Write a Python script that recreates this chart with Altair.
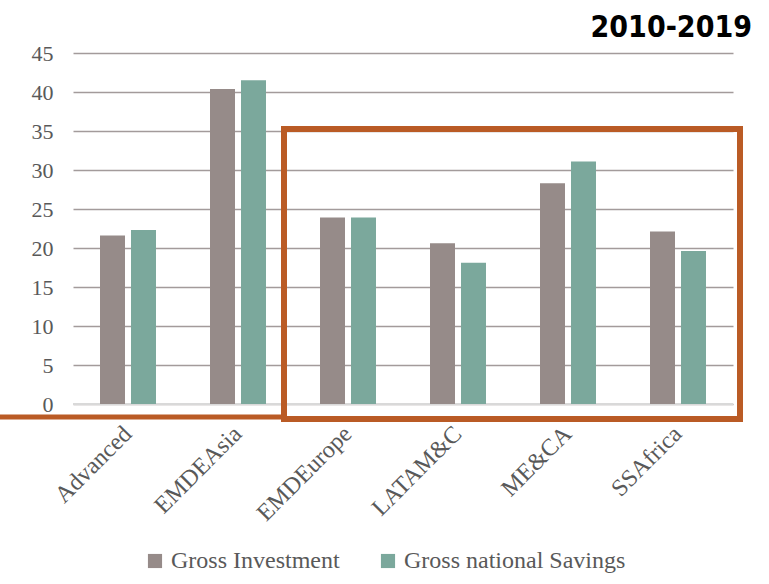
import altair as alt
import pandas as pd

regions = ["Advanced", "EMDEAsia", "EMDEurope", "LATAM&C", "ME&CA", "SSAfrica"]
series = ["Gross Investment", "Gross national Savings"]
investment = [21.6, 40.4, 23.9, 20.6, 28.3, 22.1]
savings = [22.3, 41.5, 23.9, 18.1, 31.1, 19.6]
colors = ["#968B89", "#7BA89C"]
title_text = "2010-2019"
y_ticks = [0, 5, 10, 15, 20, 25, 30, 35, 40, 45]

rows = []
for i, r in enumerate(regions):
    rows.append({"region": r, "series": series[0], "value": investment[i]})
    rows.append({"region": r, "series": series[1], "value": savings[i]})
df = pd.DataFrame(rows)

serif = "Liberation Serif"
label_color = "#595959"

bars = alt.Chart(df).mark_bar().encode(
    x=alt.X("region:N", sort=regions, title=None,
            scale=alt.Scale(paddingInner=0.491, paddingOuter=0.2455),
            axis=alt.Axis(labelAngle=-45, labelAlign="right", labelBaseline="middle",
                          labelFont=serif, labelFontSize=24, labelColor=label_color,
                          labelPadding=26, ticks=False, domain=False, grid=False,
                          labelOverlap=False, labelLimit=0)),
    xOffset=alt.XOffset("series:N", sort=series,
                        scale=alt.Scale(paddingInner=0.1935, paddingOuter=0)),
    y=alt.Y("value:Q", title=None,
            scale=alt.Scale(domain=[0, 45], nice=False),
            axis=alt.Axis(values=y_ticks, tickCount=10, labelFont=serif, labelFontSize=22,
                          labelColor=label_color, labelPadding=20, ticks=False, domain=False,
                          labelOverlap=False, labelFlush=False,
                          grid=True, gridColor="#A39B9B", gridWidth=1.6)),
    color=alt.Color("series:N", sort=series, title=None,
                    scale=alt.Scale(domain=series, range=colors),
                    legend=alt.Legend(orient="none", legendX=70, legendY=496,
                                      direction="horizontal", symbolType="square",
                                      symbolSize=200, symbolStrokeWidth=0,
                                      labelFont=serif, labelFontSize=24, labelLimit=0,
                                      labelColor=label_color, columnPadding=36,
                                      labelOffset=4)),
)

zero = alt.Chart(pd.DataFrame({"v": [0]})).mark_rule(color="#D9D9D9", strokeWidth=2).encode(
    y="v:Q"
)

box = alt.Chart(pd.DataFrame({"a": [1]})).mark_rect(
    fill=None, stroke="#BA5B25", strokeWidth=6
).encode(x=alt.value(211), x2=alt.value(667), y=alt.value(76), y2=alt.value(366))

lead = alt.Chart(pd.DataFrame({"a": [1]})).mark_rule(
    color="#BA5B25", strokeWidth=5
).encode(x=alt.value(-73), x2=alt.value(211), y=alt.value(364))

title = alt.Chart(pd.DataFrame({"t": [title_text]})).mark_text(
    font="DejaVu Sans Condensed", fontWeight="bold", fontSize=30, align="right",
    baseline="alphabetic", color="#000000"
).encode(text="t:N", x=alt.value(679), y=alt.value(-16))

chart = alt.layer(zero, bars, box, lead, title).properties(
    width=660, height=351,
    background="white",
    autosize=alt.AutoSizeParams(type="none"),
    padding={"left": 73, "top": 53, "right": 36, "bottom": 180},
).configure_view(stroke="transparent", strokeWidth=0)

chart.save("out.html", embed_options={"renderer": "svg", "actions": False})
